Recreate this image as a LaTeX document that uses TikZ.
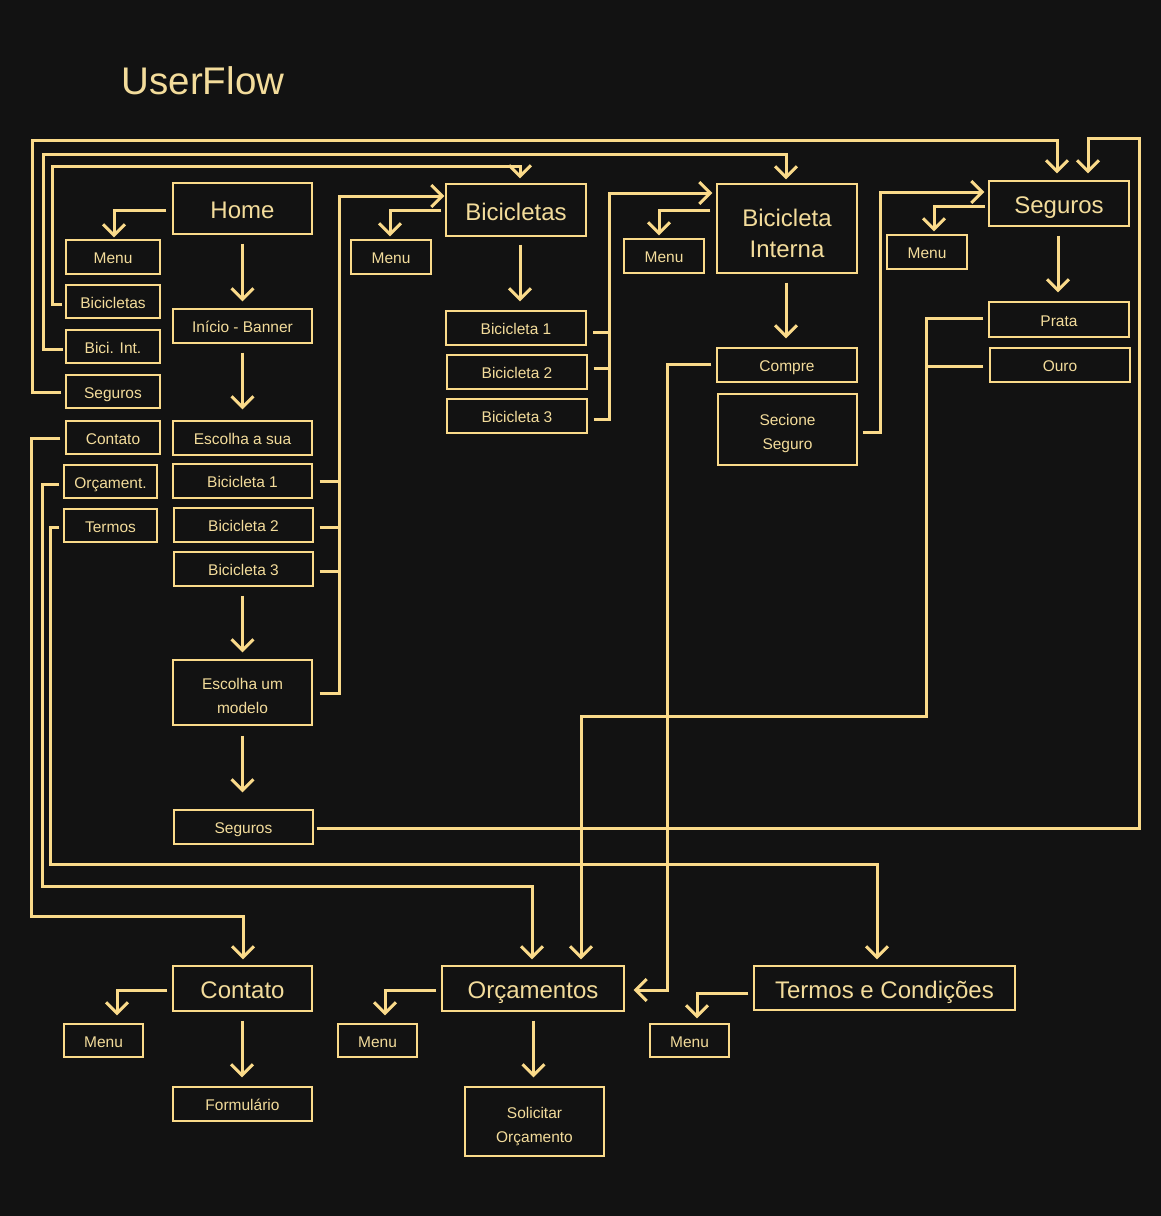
\documentclass[tikz,border=0pt]{standalone}
\usepackage{fontspec}
\setmainfont{Liberation Sans}
\usetikzlibrary{arrows.meta,calc}
\definecolor{bgc}{RGB}{18,18,18}
\definecolor{gold}{RGB}{250,218,138}
\definecolor{txt}{RGB}{243,220,155}
\newcommand{\bigf}{\fontsize{24}{31}\selectfont}
\newcommand{\smallf}{\fontsize{15.5}{24}\selectfont}
\begin{document}
\begin{tikzpicture}[x=1pt,y=-1pt,
  bx/.style={draw=gold,line width=1.2pt,inner sep=0pt,align=center,text=txt},
  bigbox/.style={bx,font=\bigf,text height=20.2pt,text depth=0pt},
  smbox/.style={bx,font=\smallf,text height=13.5pt,text depth=0pt},
  bigtwo/.style={bx,font=\bigf},
  smtwo/.style={bx,font=\smallf},
  con/.style={draw=gold,line width=3pt},
  arr/.style={con,-{Straight Barb[length=11pt,width=22pt]}}]
\fill[bgc] (0,0) rectangle (1161,1216);
\useasboundingbox (0,0) rectangle (1161,1216);

\node[text=txt,font=\fontsize{38.5}{42}\selectfont] (title) at (203,81) {UserFlow};

% left column
\node[bigbox,minimum width=139pt,minimum height=51pt] (home) at (242.5,208.5) {Home};
\node[smbox,minimum width=94pt,minimum height=34pt] (lmenu) at (113,257) {Menu};
\node[smbox,minimum width=94pt,minimum height=33pt] (lbic) at (113,301.5) {Bicicletas};
\node[smbox,minimum width=94pt,minimum height=33pt] (lbi) at (113,346.5) {Bici. Int.};
\node[smbox,minimum width=94pt,minimum height=33pt] (lseg) at (113,391.5) {Seguros};
\node[smbox,minimum width=94pt,minimum height=33pt] (lcont) at (113,437.5) {Contato};
\node[smbox,minimum width=93pt,minimum height=33pt] (lorc) at (110.5,481.5) {Orçament.};
\node[smbox,minimum width=93pt,minimum height=33pt] (lterm) at (110.5,525.5) {Termos};

\node[smbox,minimum width=139pt,minimum height=34pt] (inicio) at (242.5,326) {Início - Banner};
\node[smbox,minimum width=139pt,minimum height=34pt] (esc) at (242.5,438) {Escolha a sua};
\node[smbox,minimum width=139pt,minimum height=34pt] (hb1) at (242.5,481) {Bicicleta 1};
\node[smbox,minimum width=139pt,minimum height=34pt] (hb2) at (243.5,525) {Bicicleta 2};
\node[smbox,minimum width=139pt,minimum height=34pt] (hb3) at (243.5,569) {Bicicleta 3};
\node[smtwo,minimum width=139pt,minimum height=65pt] (hmod) at (242.5,692.5) {\rule{0pt}{19pt}Escolha um\\modelo};
\node[smbox,minimum width=139pt,minimum height=34pt] (hseg) at (243.5,827) {Seguros};

% bicicletas column
\node[bigbox,minimum width=140pt,minimum height=52pt] (bic) at (516,210) {Bicicletas};
\node[smbox,minimum width=80pt,minimum height=34pt] (bmenu) at (391,257) {Menu};
\node[smbox,minimum width=140pt,minimum height=34pt] (bb1) at (516,328) {Bicicleta 1};
\node[smbox,minimum width=140pt,minimum height=34pt] (bb2) at (517,372) {Bicicleta 2};
\node[smbox,minimum width=140pt,minimum height=34pt] (bb3) at (517,416) {Bicicleta 3};

% bicicleta interna column
\node[bigtwo,minimum width=140pt,minimum height=89pt] (bi) at (787,228.5) {\rule{0pt}{27.5pt}Bicicleta\\Interna};
\node[smbox,minimum width=80pt,minimum height=34pt] (bimenu) at (664,256) {Menu};
\node[smbox,minimum width=140pt,minimum height=34pt] (compre) at (787,365) {Compre};
\node[smtwo,minimum width=139pt,minimum height=71pt] (secione) at (787.5,429.5) {\rule{0pt}{19.5pt}Secione\\Seguro};

% seguros column
\node[bigbox,minimum width=140pt,minimum height=45pt] (seg) at (1059,203.5) {Seguros};
\node[smbox,minimum width=80pt,minimum height=34pt] (smenu) at (927,252) {Menu};
\node[smbox,minimum width=140pt,minimum height=35pt] (prata) at (1059,319.5) {Prata};
\node[smbox,minimum width=140pt,minimum height=34pt] (ouro) at (1060,365) {Ouro};

% bottom row
\node[bigbox,minimum width=139pt,minimum height=45pt] (cont) at (242.5,988.5) {Contato};
\node[smbox,minimum width=79pt,minimum height=33pt] (cmenu) at (103.5,1040.5) {Menu};
\node[smbox,minimum width=139pt,minimum height=34pt] (form) at (242.5,1104) {Formulário};
\node[bigbox,minimum width=182pt,minimum height=45pt] (orc) at (533,988.5) {Orçamentos};
\node[smbox,minimum width=79pt,minimum height=33pt] (omenu) at (377.5,1040.5) {Menu};
\node[smtwo,minimum width=139pt,minimum height=69pt] (solic) at (534.5,1121.5) {\rule{0pt}{21pt}Solicitar\\Orçamento};
\node[bigbox,minimum width=261pt,minimum height=44pt] (term) at (884.5,988) {Termos e Condições};
\node[smbox,minimum width=79pt,minimum height=33pt] (tmenu) at (689.5,1040.5) {Menu};

% routing lanes
\coordinate (laneA) at (32,140);
\coordinate (laneB) at (43,154);
\coordinate (laneC) at (52,166);
\coordinate (laneD) at (31,916);
\coordinate (laneE) at (42,886);
\coordinate (laneF) at (50,864);
\coordinate (busH) at (339,196);
\coordinate (busB) at (609,193);
\coordinate (busS) at (880,192);
\coordinate (busP) at (926,716);
\coordinate (busC) at (667,990);
\coordinate (rTop) at (1139,138);

% home column flow
\draw[arr] ($(home.west)+(-6,1.5)$) -| ($(lmenu.north)+(1,-2)$);
\draw[arr] ($(home.south)+(0,9)$) -- ($(inicio.north)+(0,-7)$);
\draw[arr] ($(inicio.south)+(0,9)$) -- ($(esc.north)+(0,-11)$);
\draw[arr] ($(hb3.south)+(-1,9)$) -- ($(hmod.north)+(0,-7)$);
\draw[arr] ($(hmod.south)+(0,10)$) -- ($(hseg.north)+(-1,-17)$);

% home bikes to Bicicletas
\draw[con] ($(hb1.east)+(7,0)$) -| (busH);
\draw[con] ($(hb2.east)+(6,2.5)$) -| (busH);
\draw[con] ($(hb3.east)+(6,2)$) -| (busH);
\draw[arr,shorten >=1pt] ($(hmod.east)+(7,0.5)$) -| (busH) -- (bic.west |- busH);

% bicicletas column flow
\draw[arr] ($(bic.west)+(-4,0)$) -| ($(bmenu.north)+(-1,-3)$);
\draw[arr] ($(bic.south)+(4,8)$) -- ($(bb1.north)+(4,-9)$);
\draw[con] ($(bb1.east)+(6.5,4)$) -| (busB);
\draw[con] ($(bb2.east)+(6,-4)$) -| (busB);
\draw[arr,shorten >=4pt] ($(bb3.east)+(6,3)$) -| (busB) -- (bi.west |- busB);

% bicicleta interna flow
\draw[arr] ($(bi.west)+(-6,-18.5)$) -| ($(bimenu.north)+(-5,-3)$);
\draw[arr] ($(bi.south)+(-1,9)$) -- ($(compre.north)+(-1,-9)$);
\draw[arr,shorten >=4pt] ($(secione.east)+(5,2.5)$) -| (busS) -- (seg.west |- busS);

% seguros flow
\draw[arr] ($(seg.west)+(-3,2.5)$) -| ($(smenu.north)+(7,-3)$);
\draw[arr] ($(seg.south)+(-1,9)$) -- ($(prata.north)+(-1,-9)$);
\draw[con] ($(ouro.west)+(-6,1)$) -| (busP);
\draw[arr] ($(prata.west)+(-5,-1.5)$) -| (busP) -| ($(orc.north)+(48,-6)$);
\draw[arr,shorten >=9pt] ($(compre.west)+(-5,-1)$) -| (busC) -- (orc.east |- busC);

% bottom seguros back to top seguros
\draw[arr] ($(hseg.east)+(3,1)$) -| (rTop) -| ($(seg.north)+(29,-7)$);

% left menu links
\draw[arr] ($(lseg.west)+(-4,0.5)$) -| (laneA) -| ($(seg.north)+(-2,-7)$);
\draw[arr] ($(lbi.west)+(-2,2.5)$) -| (laneB) -| ($(bi.north)+(-1,-4)$);
\draw[arr] ($(lbic.west)+(-3,2.5)$) -| (laneC) -| ($(bic.north)+(4,-5)$);
\draw[arr] ($(lcont.west)+(-5,0.5)$) -| (laneD) -| ($(cont.north)+(0.5,-6)$);
\draw[arr] ($(lorc.west)+(-4,2.5)$) -| (laneE) -| ($(orc.north)+(-1,-6)$);
\draw[arr] ($(lterm.west)+(-4,1.5)$) -| (laneF) -| ($(term.north)+(-7.5,-6)$);

% bottom row flows
\draw[arr] ($(cont.west)+(-5,1.5)$) -| ($(cmenu.north)+(13.5,-8)$);
\draw[arr] ($(cont.south)+(-0.5,9)$) -- ($(form.north)+(-0.5,-9)$);
\draw[arr] ($(orc.west)+(-5,1.5)$) -| ($(omenu.north)+(7.5,-8)$);
\draw[arr] ($(orc.south)+(0.5,9)$) -- ($(solic.north)+(-1,-9)$);
\draw[arr] ($(term.west)+(-5,5)$) -| ($(tmenu.north)+(7.5,-5)$);
\end{tikzpicture}
\end{document}
